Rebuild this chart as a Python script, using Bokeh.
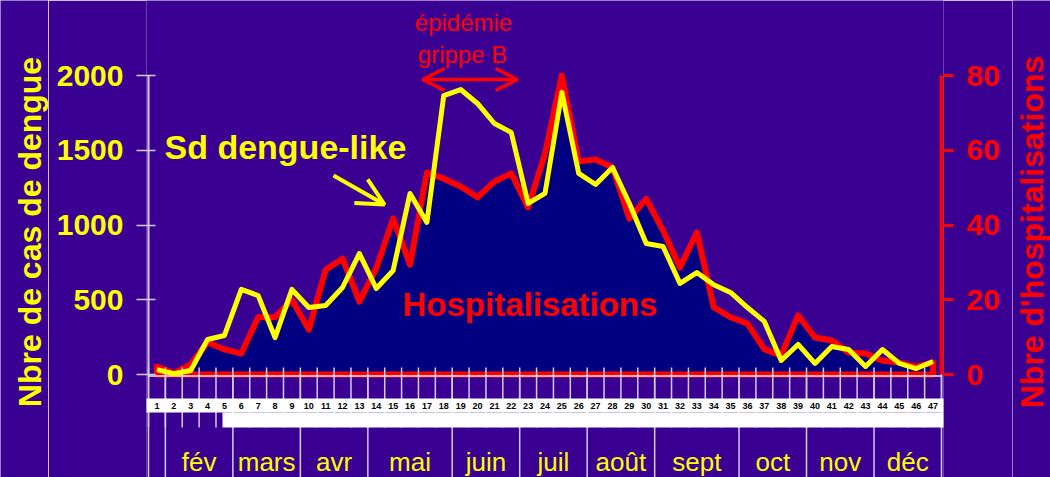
import math
from bokeh.plotting import figure
from bokeh.layouts import row
from bokeh.models import (ColumnDataSource, Range1d, LinearAxis, FixedTicker,
                          Label, Arrow, OpenHead)
from bokeh.core.properties import value
from bokeh.embed import file_html
from bokeh.resources import INLINE

# ---------------- data ----------------
weeks = list(range(1, 48))
dengue = [33, 5, 27, 234, 261, 569, 528, 247, 569, 448, 462, 582, 809, 575, 696,
          1211, 1017, 1866, 1906, 1813, 1679, 1619, 1144, 1211, 1887, 1345, 1271,
          1385, 1144, 876, 856, 609, 682, 600, 549, 448, 355, 94, 201, 74, 187,
          167, 54, 167, 74, 40, 87]
hosp = [2.1, 0.3, 2.7, 8.6, 6.7, 5.6, 15.3, 15.3, 20, 12, 28, 31, 19.5, 28.4, 41.7,
        29.4, 54, 52.4, 50.3, 47.4, 51.6, 53.8, 44.7, 59, 80, 57, 57.5, 55.4, 41.7,
        47, 38.5, 28.6, 38, 18, 15.3, 13.6, 6.7, 5.1, 15.8, 9.9, 9.1, 5.9, 5.6, 3.7,
        3.2, 2.1, 3.2]
months = ["", "fév", "mars", "avr", "mai", "juin", "juil", "août", "sept", "oct", "nov", "déc"]
month_weeks = [1, 4, 4, 4, 5, 4, 4, 4, 5, 4, 4, 4]
dengue_ticks = [0, 500, 1000, 1500, 2000]
hosp_ticks = [0, 20, 40, 60, 80]
left_title = "Nbre de cas de dengue"
right_title = "Nbre d'hospitalisations"

# ---------------- geometry ----------------
BG = "#3a0091"
NAVY = "#000080"
RED = "#ff0000"
YEL = "#ffff00"
LINE_LAV = "#d4cced"
FONT = "Liberation Sans"

H = 477
LEFT_W, RIGHT_W = 48, 38
MAIN_W = 1050 - LEFT_W - RIGHT_W          # main figure spans x 48 .. 1012
PPX = (941 - 148) / 47.0          # pixels per week
PPU = 299 / 2000.0                # pixels per dengue case
PPU_R = 299 / 80.0                # pixels per hospitalisation

def X(rx):
    return -0.5 + (rx - 148) / PPX

def Y(ry):
    return (374 - ry) / PPU

x_start, x_end = X(146), X(943)
y_start, y_end = Y(H), Y(0)
yr_start, yr_end = -(H - 374) / PPU_R, 80 + 75 / PPU_R

p = figure(width=MAIN_W, height=H, output_backend="svg", toolbar_location=None,
           x_range=Range1d(x_start, x_end), y_range=Range1d(y_start, y_end),
           x_axis_location=None, y_axis_location="left",
           min_border_left=146 - LEFT_W, min_border_right=(LEFT_W + MAIN_W) - 943,
           min_border_top=0, min_border_bottom=0,
           background_fill_color=BG, border_fill_color=BG, outline_line_color=None)
p.grid.visible = False
p.extra_y_ranges = {"hosp": Range1d(yr_start, yr_end)}

# left axis
ax = p.yaxis[0]
ax.ticker = FixedTicker(ticks=dengue_ticks)
ax.axis_line_color = None
ax.major_tick_in = 9
ax.major_tick_out = 10
ax.major_tick_line_color = LINE_LAV
ax.major_tick_line_width = 1.5
ax.minor_tick_line_color = None
ax.major_label_standoff = 13
ax.major_label_text_color = YEL
ax.major_label_text_font = FONT
ax.major_label_text_font_style = "bold"
ax.major_label_text_font_size = "30px"

# right axis
axr = LinearAxis(y_range_name="hosp", ticker=FixedTicker(ticks=hosp_ticks))
axr.axis_line_color = None
axr.major_tick_in = 0
axr.major_tick_out = 10
axr.major_tick_line_color = RED
axr.major_tick_line_width = 3
axr.minor_tick_line_color = None
axr.major_label_standoff = 13
axr.major_label_text_color = RED
axr.major_label_text_font = FONT
axr.major_label_text_font_style = "bold"
axr.major_label_text_font_size = "30px"
p.add_layout(axr, "right")

# ---------------- week / month structure ----------------
xs = [w - 1 for w in weeks]
week_bounds = [k - 0.5 for k in range(len(weeks) + 1)]
bounds = [0]
for n in month_weeks:
    bounds.append(bounds[-1] + n)
month_lines = [b - 0.5 for b in bounds]
month_centers = [(bounds[i] + bounds[i + 1]) / 2 - 0.5 for i in range(len(months))]

# month separator lines (down to bottom)
p.segment(x0=month_lines, y0=[0] * len(month_lines), x1=month_lines,
          y1=[y_start] * len(month_lines), line_color=LINE_LAV, line_width=1.5)

# hospitalisation area
px = [xs[0]] + xs + [xs[-1]]
py = [0] + hosp + [0]
p.patch(px, py, y_range_name="hosp", fill_color=NAVY, line_color=RED,
        line_width=6, line_join="round")

# week ticks
p.segment(x0=week_bounds, y0=[Y(367)] * len(week_bounds), x1=week_bounds,
          y1=[Y(427)] * len(week_bounds), line_color=LINE_LAV, line_width=1.5)

# white label bands with week numbers
p.quad(left=[X(139)], right=[X(948)], bottom=[Y(412)], top=[Y(398)],
       fill_color="white", line_color=None)
p.quad(left=[X(222)], right=[X(948)], bottom=[Y(427)], top=[Y(412)],
       fill_color="white", line_color=None)
wk_src = ColumnDataSource(dict(x=xs, y=[Y(405.5)] * len(xs), t=[str(w) for w in weeks]))
p.text(x="x", y="y", text="t", source=wk_src, text_color="black",
       text_font=value(FONT), text_font_size="9px", text_font_style="bold",
       text_align="center", text_baseline="middle")

# month labels
m_src = ColumnDataSource(dict(x=month_centers, y=[Y(461)] * len(months), t=months))
p.text(x="x", y="y", text="t", source=m_src, text_color=YEL,
       text_font=value(FONT), text_font_size="26px",
       text_align="center", text_baseline="middle")

# axis lines
p.segment(x0=[-0.5], y0=[0], x1=[-0.5], y1=[2000], line_color=LINE_LAV, line_width=2)
p.segment(x0=[-0.5], y0=[Y(375.5)], x1=[46.5], y1=[Y(375.5)], line_color="#ece8fa",
          line_width=1.5)
p.segment(x0=[46.5], y0=[0], x1=[46.5], y1=[80], y_range_name="hosp",
          line_color=RED, line_width=4)

# dengue line
d_src = ColumnDataSource(dict(x=xs, y=dengue))
p.line("x", "y", source=d_src, line_color=YEL, line_width=5, line_join="round")

# ---------------- annotations ----------------
def lab(text, rx, ry, color, size, style="normal", align="left"):
    p.add_layout(Label(x=X(rx), y=Y(ry), text=text, text_color=color,
                       text_font=FONT, text_font_size=size, text_font_style=style,
                       text_align=align, text_baseline="middle"))

lab("épidémie", 463, 22, RED, "24px", "normal", "center")
lab("grippe B", 462, 54, RED, "24px", "normal", "center")
lab("Sd dengue-like", 164, 146, YEL, "34px", "bold", "left")
lab("Hospitalisations", 402, 304, RED, "33px", "bold", "left")

p.add_layout(Arrow(x_start=X(422), y_start=Y(79), x_end=X(517), y_end=Y(79),
                   start=OpenHead(size=22, line_color=RED, line_width=3.5),
                   end=OpenHead(size=22, line_color=RED, line_width=3.5),
                   line_color=RED, line_width=3.5))
p.add_layout(Arrow(x_start=X(333), y_start=Y(175), x_end=X(384), y_end=Y(204),
                   end=OpenHead(size=27, line_color=YEL, line_width=4),
                   line_color=YEL, line_width=4))

# ---------------- axis title strips ----------------
def strip(width, x0, title, tx, color):
    s = figure(width=width, height=H, output_backend="svg", toolbar_location=None,
               x_range=Range1d(x0, x0 + width), y_range=Range1d(0, H),
               x_axis_location=None, y_axis_location=None,
               min_border=0, min_border_left=0, min_border_right=0,
               min_border_top=0, min_border_bottom=0,
               background_fill_color=BG, border_fill_color=BG, outline_line_color=None)
    s.grid.visible = False
    s.text(x=[tx], y=[H - 231.5], text=[title], angle=math.pi / 2,
           text_color=color, text_font=value(FONT), text_font_size="32px",
           text_font_style="bold", text_align="center", text_baseline="middle")
    return s

left_strip = strip(LEFT_W, 0, left_title, 29, YEL)
right_strip = strip(RIGHT_W, LEFT_W + MAIN_W, right_title, 1031, RED)

layout = row(left_strip, p, right_strip, spacing=0)

open("out.html", "w").write(file_html(layout, INLINE))
